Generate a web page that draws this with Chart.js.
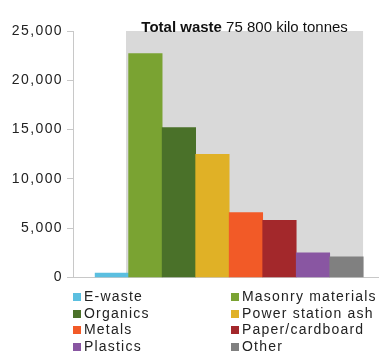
<!DOCTYPE html>
<html>
<head>
<meta charset="utf-8">
<script src="https://cdn.jsdelivr.net/npm/chart.js@4.4.0/dist/chart.umd.min.js"></script>
<style>
  body { margin: 0; background: #fff; }
  #wrap { position: relative; width: 379px; height: 354px; }
  #myChart { position: absolute; left: 0; top: 0; }
  #legend {
    position: absolute; left: 73px; top: 288px;
    display: grid; grid-template-columns: 158px 150px;
    font: 14px "Liberation Sans", Arial, sans-serif; letter-spacing: 1.2px; color: #222;
  }
  #legend div { height: 16.6px; line-height: 16.6px; white-space: nowrap; }
  #legend span { display: inline-block; width: 8px; height: 8px; margin-right: 3px; vertical-align: 0px; }
</style>
</head>
<body>
<div id="wrap">
  <canvas id="myChart" width="379" height="290"></canvas>
  <div id="legend"></div>
</div>
<script>
// waste categories, kilo tonnes
const categories = ['E-waste', 'Masonry materials', 'Organics', 'Power station ash',
                    'Metals', 'Paper/cardboard', 'Plastics', 'Other'];
const amounts = [450, 22700, 15200, 12500, 6600, 5800, 2500, 2100];
const colors = ['#5bbfe0', '#7aa332', '#4a7129', '#e0b126', '#f25a27', '#a3282b', '#8956a2', '#808080'];
const yTicks = [0, 5000, 10000, 15000, 20000, 25000];
const totalWaste = 75800;
const totalLabel = ['Total waste', ' 75 800 kilo tonnes'];

// legend, two columns
let leg = document.getElementById('legend');
for (let i = 0; i < categories.length; i++) {
  leg.innerHTML += '<div><span style="background:' + colors[i] + '"></span>' + categories[i] + '</div>';
}

const axisGray = '#c8c8c8';
const font = { family: '"Liberation Sans", Arial, sans-serif', size: 14 };

// text inside the grey total box
const totalText = {
  id: 'totalText',
  afterDatasetsDraw(chart) {
    const ctx = chart.ctx;
    const x = chart.scales.x;
    const cx = (x.getPixelForValue(0.42) + x.getPixelForValue(7.5)) / 2;
    const cy = chart.chartArea.top - 3;
    ctx.save();
    ctx.letterSpacing = '0px';
    ctx.textBaseline = 'middle';
    ctx.fillStyle = '#111';
    ctx.font = 'bold 15px "Liberation Sans", Arial, sans-serif';
    let w1 = ctx.measureText(totalLabel[0]).width;
    ctx.font = '15px "Liberation Sans", Arial, sans-serif';
    let w2 = ctx.measureText(totalLabel[1]).width;
    let start = cx - (w1 + w2) / 2;
    ctx.font = 'bold 15px "Liberation Sans", Arial, sans-serif';
    ctx.fillText(totalLabel[0], start, cy);
    ctx.font = '15px "Liberation Sans", Arial, sans-serif';
    ctx.fillText(totalLabel[1], start + w1, cy);
    ctx.restore();
  }
};

const spacing = {
  id: 'spacing',
  beforeUpdate(chart) { chart.ctx.letterSpacing = '1.4px'; },
  beforeDraw(chart) { chart.ctx.letterSpacing = '1.4px'; }
};

const config = {
  type: 'bar',
  data: {
    datasets: [
      {
        type: 'bar',
        label: 'waste',
        data: amounts.map((v, i) => ({ x: i, y: v })),
        backgroundColor: colors,
        borderWidth: 0,
        barPercentage: 1,
        categoryPercentage: 1,
        order: 0
      },
      {
        type: 'line',
        label: 'total',
        data: [{ x: 0.42, y: totalWaste }, { x: 7.5, y: totalWaste }],
        backgroundColor: '#d9d9d9',
        borderColor: 'transparent',
        pointRadius: 0,
        fill: 'origin',
        clip: { left: 0, top: 19, right: 0, bottom: 0 },
        order: 1
      }
    ]
  },
  options: {
    responsive: false,
    animation: false,
    devicePixelRatio: 1,
    layout: { padding: { top: 31, right: 0, left: 0, bottom: 0 } },
    plugins: { legend: { display: false }, tooltip: { enabled: false } },
    scales: {
      x: {
        type: 'linear',
        offset: false,
        min: -1.16,
        max: 7.97,
        ticks: { display: false },
        grid: { display: false },
        border: { display: true, color: axisGray },
        afterFit: s => { s.height = 0; }
      },
      y: {
        min: 0,
        max: 25000,
        afterBuildTicks: s => { s.ticks = yTicks.map(v => ({ value: v })); },
        ticks: {
          font: font,
          color: '#222',
          padding: 4,
          callback: v => v.toLocaleString('en-US')
        },
        grid: { drawOnChartArea: false, tickLength: 6, color: axisGray },
        border: { color: axisGray },
        afterFit: s => { s.width = 73; }
      }
    }
  },
  plugins: [spacing, totalText]
};

const myChart = new Chart(document.getElementById('myChart'), config);
</script>
</body>
</html>
